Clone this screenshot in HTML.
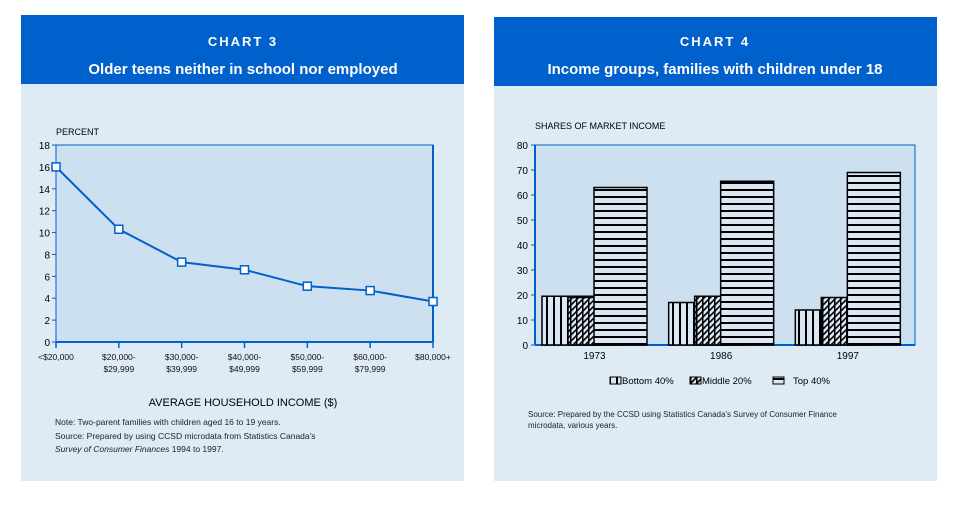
<!DOCTYPE html>
<html><head><meta charset="utf-8"><style>
body{margin:0;background:#fff;width:961px;height:505px;overflow:hidden;font-family:"Liberation Sans",sans-serif}
svg text{font-family:"Liberation Sans",sans-serif}
</style></head><body>
<svg id="s" width="961" height="505" xmlns="http://www.w3.org/2000/svg">
<defs>
<pattern id="pv" width="7" height="7" patternUnits="userSpaceOnUse"><rect width="7" height="7" fill="#dbe8f4"/><rect x="0" width="2" height="7" fill="#000"/></pattern>
<pattern id="pd" width="6" height="6" patternUnits="userSpaceOnUse"><rect width="6" height="6" fill="#dbe8f4"/><path d="M0 6L6 0M-1 1L1 -1M5 7L7 5" stroke="#000" stroke-width="1.6"/><rect x="0" y="0" width="1.5" height="6" fill="#000"/></pattern>
<pattern id="ph" width="7" height="7" patternUnits="userSpaceOnUse"><rect width="7" height="7" fill="#dbe8f4"/><rect y="0" width="7" height="2" fill="#000"/></pattern>
</defs>
<g>
<rect x="21" y="15" width="443" height="466" fill="#deebf5"/>
<rect x="21" y="15" width="443" height="69" fill="#0060cc"/>
<text x="243" y="46" fill="#fff" font-size="13" font-weight="bold" text-anchor="middle" letter-spacing="2">CHART 3</text>
<text x="243" y="74" fill="#fff" font-size="15" font-weight="bold" text-anchor="middle">Older teens neither in school nor employed</text>
<text x="56" y="135" font-size="9">PERCENT</text>
<g id="c3"></g>
<text x="243" y="406" font-size="11" text-anchor="middle">AVERAGE HOUSEHOLD INCOME ($)</text>
<text x="55" y="425" font-size="8.5" fill="#222">Note: Two-parent families with children aged 16 to 19 years.</text>
<text x="55" y="439" font-size="8.5" fill="#222">Source: Prepared by using CCSD microdata from Statistics Canada's</text>
<text x="55" y="452" font-size="8.5" fill="#222" font-style="italic">Survey of Consumer Finances <tspan font-style="normal">1994 to 1997.</tspan></text>
</g>
<g>
<rect x="494" y="17" width="443" height="464" fill="#deebf5"/>
<rect x="494" y="17" width="443" height="69" fill="#0060cc"/>
<text x="715" y="46" fill="#fff" font-size="13" font-weight="bold" text-anchor="middle" letter-spacing="2">CHART 4</text>
<text x="715" y="74" fill="#fff" font-size="15" font-weight="bold" text-anchor="middle">Income groups, families with children under 18</text>
<text x="535" y="129" font-size="9">SHARES OF MARKET INCOME</text>
<g id="c4"></g>
<g>
<rect x="610" y="377" width="11" height="7" fill="url(#pv)" stroke="#000"/>
<text x="622" y="384" font-size="9.5">Bottom 40%</text>
<rect x="690" y="377" width="11" height="7" fill="url(#pd)" stroke="#000"/>
<text x="702" y="384" font-size="9.5">Middle 20%</text>
<rect x="773" y="377" width="11" height="7" fill="url(#ph)" stroke="#000"/>
<text x="793" y="384" font-size="9.5">Top 40%</text>
</g>
<text x="528" y="417" font-size="8" fill="#222">Source: Prepared by the CCSD using Statistics Canada's Survey of Consumer Finance</text>
<text x="528" y="428" font-size="8" fill="#222">microdata, various years.</text>
</g>
</svg>
<script>
const lineCats=["<$20,000","$20,000-|$29,999","$30,000-|$39,999","$40,000-|$49,999","$50,000-|$59,999","$60,000-|$79,999","$80,000+"];
const lineVals=[16,10.3,7.3,6.6,5.1,4.7,3.7];
const lineTicks=[0,2,4,6,8,10,12,14,16,18];
const barYears=["1973","1986","1997"];
const bottomVals=[19.5,17,14];
const middleVals=[19,19.5,19];
const topVals=[63,65.5,69];
const barTicks=[0,10,20,30,40,50,60,70,80];
const NS="http://www.w3.org/2000/svg";
function mk(p,t,a){const e=document.createElementNS(NS,t);for(const k in a)e.setAttribute(k,a[k]);p.appendChild(e);return e;}
// chart 3
(function(){
const g=document.getElementById('c3');
const x0=56,x1=433,y0=342,y1=145;
const X=i=>x0+(x1-x0)*i/(lineCats.length-1);
const Y=v=>y0-(y0-y1)*v/18;
const bg=mk(g,'rect',{x:x0,y:y1,width:x1-x0,height:y0-y1,fill:'#cde0f0',stroke:'#0060cc','stroke-width':1});


mk(g,'line',{x1:x1,y1:y1,x2:x1,y2:y0,stroke:'#0060cc','stroke-width':2});
mk(g,'line',{x1:x0,y1:y0,x2:x1,y2:y0,stroke:'#0060cc','stroke-width':2});
lineTicks.forEach(t=>{
mk(g,'line',{x1:x0-4,y1:Y(t),x2:x0,y2:Y(t),stroke:'#0060cc'});
const tx=mk(g,'text',{x:x0-6,y:Y(t)+4,'font-size':10,'text-anchor':'end'});tx.textContent=t;


});
lineCats.forEach((c,i)=>{
mk(g,'line',{x1:X(i),y1:y0,x2:X(i),y2:y0+6,stroke:'#0060cc','stroke-width':1.5});
c.split('|').forEach((s,j)=>{const tx=mk(g,'text',{x:X(i),y:y0+18+j*12,'font-size':8.5,'text-anchor':'middle',fill:'#111'});tx.textContent=s;

});
});
const pl=mk(g,'polyline',{points:lineVals.map((v,i)=>X(i)+','+Y(v)).join(' '),fill:'none',stroke:'#0060cc','stroke-width':2});


lineVals.forEach((v,i)=>{const r=mk(g,'rect',{x:X(i)-4,y:Y(v)-4,width:8,height:8,fill:'#fff',stroke:'#0060cc','stroke-width':1.5});

});
})();
// chart 4
(function(){
const g=document.getElementById('c4');
const x0=535,x1=915,y0=345,y1=145;
const Y=v=>y0-(y0-y1)*v/80;
const bg=mk(g,'rect',{x:x0,y:y1,width:x1-x0,height:y0-y1,fill:'#cde0f0',stroke:'#0060cc','stroke-width':1});


mk(g,'line',{x1:x0,y1:y1,x2:x0,y2:y0,stroke:'#0060cc','stroke-width':2});
mk(g,'line',{x1:x0,y1:y0,x2:x1,y2:y0,stroke:'#0060cc','stroke-width':2});
barTicks.forEach(t=>{
mk(g,'line',{x1:x0-4,y1:Y(t),x2:x0,y2:Y(t),stroke:'#0060cc'});
const tx=mk(g,'text',{x:x0-7,y:Y(t)+4,'font-size':10,'text-anchor':'end'});tx.textContent=t;


});
const gw=(x1-x0)/barYears.length, bw=53, off=26;
const series=[[bottomVals,'url(#pv)'],[middleVals,'url(#pd)'],[topVals,'url(#ph)']];
barYears.forEach((yr,i)=>{
const start=x0+gw*i+7;
series.forEach(([vals,f],k)=>{
const r=mk(g,'rect',{x:start+off*k,y:Y(vals[i]),width:bw,height:y0-Y(vals[i]),fill:f,stroke:'#000','stroke-width':1.5});


});
const tx=mk(g,'text',{x:start+off+bw/2,y:y0+14,'font-size':10,'text-anchor':'middle'});tx.textContent=yr;


});
})();
</script>
</body></html>
